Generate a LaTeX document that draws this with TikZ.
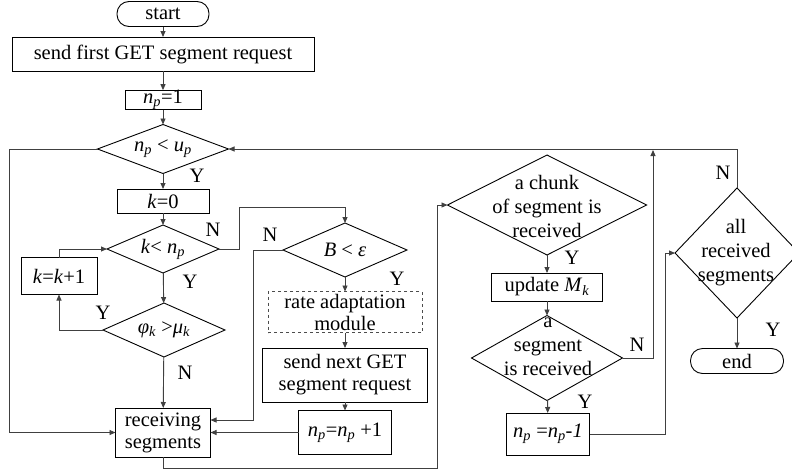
\documentclass[tikz,border=0pt]{standalone}
\usepackage{fontspec}
\setmainfont{Liberation Serif}
\usetikzlibrary{shapes.geometric,arrows.meta,calc}
\newcommand\itx[1]{\textit{#1}}
\newcommand\sbx[1]{\textsubscript{\textit{#1}}}
\begin{document}
\begin{tikzpicture}[x=1pt,y=-1pt,
  every node/.style={font=\fontsize{20.5}{22}\selectfont},
  proc/.style={draw, rectangle, inner sep=0pt, outer sep=0pt, align=center, line width=0.9pt},
  term/.style={proc, rounded corners=12pt},
  dec/.style={draw, diamond, inner sep=0pt, outer sep=0pt, line width=0.9pt},
  txt/.style={align=center, inner sep=0pt},
  lab/.style={inner sep=0pt},
  conn/.style={line width=0.9pt, draw=black!75},
  arr/.style={conn, -{Triangle[length=6pt,width=5pt]}}]
\clip (0,0) rectangle (792,474);
% left column
\node[term, minimum width=92, minimum height=25] (start) at (163,14) {start};
\node[proc, minimum width=302, minimum height=34] (send1) at (163,54) {send first GET segment request};
\node[proc, minimum width=76, minimum height=19] (np1) at (163,100) {\itx{n}\sbx{p}=1};
\node[dec, minimum width=131, minimum height=49] (cond1) at (163,149) {};
\node[txt] (t1) at (cond1) {\itx{n}\sbx{p} < \itx{u}\sbx{p}};
\node[proc, minimum width=92, minimum height=24] (k0) at (163,201) {\itx{k}=0};
\node[dec, minimum width=112, minimum height=48] (cond2) at (163,249) {};
\node[txt] (t2) at (cond2) {\itx{k}< \itx{n}\sbx{p}};
\node[proc, minimum width=76, minimum height=37] (kinc) at (59,276) {\itx{k}=\itx{k}+1};
\node[dec, minimum width=122, minimum height=54] (cond3) at (164,330) {};
\node[txt] (t3) at (cond3) {\itx{φ}\sbx{k} >\itx{μ}\sbx{k}};
\node[proc, minimum width=95, minimum height=49] (recv) at (163,432.5) {receiving\\segments};
% middle column
\node[dec, minimum width=124, minimum height=54] (condB) at (345,250) {};
\node[txt] (t4) at (condB) {\itx{B} < \itx{ε}};
\node[proc, dashed, draw=black!70, minimum width=154, minimum height=41] (rate) at (345,312) {rate adaptation\\module};
\node[proc, minimum width=165, minimum height=54] (send2) at (345,375) {send next GET\\segment request};
\node[proc, minimum width=93, minimum height=44] (npinc) at (345,432.5) {\itx{n}\sbx{p}=\itx{n}\sbx{p} +1};
% right-middle column
\node[dec, minimum width=199, minimum height=100] (chunk) at (547,205) {};
\node[txt] (t5) at (547,206) {a chunk\\[2pt]of segment is\\[2pt]received};
\node[proc, minimum width=111, minimum height=28] (upd) at (547,287) {update \itx{M}\sbx{k}};
\node[dec, minimum width=151, minimum height=85] (seg) at (547,358) {};
\node[txt] (t6) at (548,347) {a\\[2pt]segment\\[2pt]is received};
\node[proc, minimum width=83, minimum height=42] (npdec) at (548,434) {\itx{n}\sbx{p} =\itx{n}\sbx{p}\textit{-1}};
% right column
\node[dec, minimum width=124, minimum height=130] (all) at (737,253) {};
\node[txt] (t7) at (736,253) {all\\[2pt]received\\[2pt]segments};
\node[term, minimum width=93, minimum height=25] (end) at (737,361) {end};
% helper coordinates
\coordinate (b1) at (239,207);
\coordinate (c1) at (437,468);
\coordinate (c3) at (653,150);
\coordinate (c4) at (665,434);
% connectors
\draw[arr] (start) -- (send1);
\draw[arr] (send1) -- (np1);
\draw[arr] (np1) -- (cond1);
\draw[arr] (cond1) -- (k0);
\draw[arr] (k0) -- (cond2);
\draw[arr] (cond2) -- (cond3);
\draw[arr] (cond3.west) -| (kinc.south);
\draw[arr] (kinc.north) |- (cond2.west);
\draw[arr] (cond3) -- (recv);
\draw[arr] (cond1.west) -- ++(-88,0) |- (recv.west);
\draw[arr] (cond2.east) -| (b1) -| (condB.north);
\draw[arr] (condB.west) -- ++(-30,0) |- ([yshift=12.5pt]recv.east);
\draw[arr] (condB) -- (rate);
\draw[arr] (rate) -- (send2);
\draw[arr] (send2) -- (npinc);
\draw[arr] (npinc.west) -- (recv.east |- npinc.west);
\draw[arr] (recv.south) |- (c1) |- (chunk.west);
\draw[arr] (chunk) -- (upd);
\draw[arr] (upd) -- (seg);
\draw[arr] (seg) -- (npdec);
\draw[arr] (seg.east) -| (c3);
\draw[arr] (all.north) |- (cond1.east);
\draw[arr] (npdec.east) -- (c4) |- (all.west);
\draw[arr] (all) -- (end);
% labels
\node[lab] (y1) at (197,176) {Y};
\node[lab] (n2) at (213,230) {N};
\node[lab] (y2) at (190,282) {Y};
\node[lab] (y3) at (103,313) {Y};
\node[lab] (n3) at (185,373) {N};
\node[lab] (nb) at (270,235) {N};
\node[lab] (yb) at (397,279) {Y};
\node[lab] (yc) at (572,258) {Y};
\node[lab] (ns) at (637,345) {N};
\node[lab] (ys) at (585,402) {Y};
\node[lab] (na) at (723,173) {N};
\node[lab] (ya) at (773,330) {Y};
\end{tikzpicture}
\end{document}
